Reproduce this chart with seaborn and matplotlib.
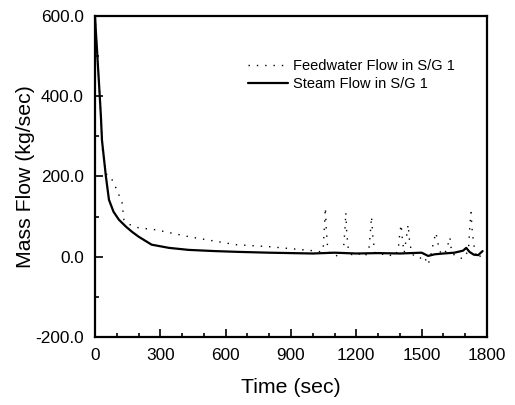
import numpy as np
import pandas as pd
import seaborn as sns
import matplotlib.pyplot as plt
from matplotlib.ticker import MultipleLocator, FormatStrFormatter

# steam flow in S/G 1
steam_t = [0, 4, 9, 14, 18, 27, 32, 50, 64, 85, 110, 142, 170, 200, 260, 340, 430,
           550, 660, 800, 900, 1000, 1100, 1200, 1300, 1400, 1500, 1530, 1560,
           1600, 1650, 1690, 1705, 1720, 1740, 1760, 1780]
steam_v = [600, 560, 517, 470, 435, 350, 290, 200, 142, 112, 92, 75, 62, 50, 30, 22,
           17, 14, 12, 10, 9, 8, 10, 8, 9, 8, 10, 2, 6, 8, 10, 15, 22, 12, 5, 4, 14]

# feedwater flow in S/G 1
feed_t = [0, 4, 9, 18, 27, 35, 55, 78, 100, 124, 133, 160, 200, 280, 430, 646,
          800, 900, 1000, 1040,
          1048, 1055, 1058, 1062, 1068, 1078, 1100, 1120,
          1140, 1148, 1152, 1156, 1164, 1180, 1210, 1240,
          1258, 1266, 1270, 1276, 1285, 1310, 1340, 1370,
          1392, 1400, 1406, 1412, 1420, 1432, 1438, 1446, 1460, 1490, 1510, 1530,
          1545, 1556, 1566, 1574, 1590, 1615, 1625, 1630, 1638, 1660, 1690,
          1715, 1722, 1727, 1733, 1745, 1760, 1780]
feed_v = [600, 560, 517, 435, 350, 260, 200, 192, 167, 135, 92, 80, 72, 67, 50, 30,
          25, 20, 15, 12,
          20, 90, 122, 70, 25, 8, 5, 0,
          10, 70, 110, 60, 15, 5, 8, 0,
          20, 70, 100, 50, 10, 5, 8, 0,
          15, 60, 80, 40, 10, 55, 80, 30, 5, -5, 2, -20,
          10, 40, 60, 35, 5, 15, 40, 48, 10, 0, -5,
          15, 80, 110, 60, 10, -5, 10]

steam = pd.DataFrame({'Time': steam_t, 'Flow': steam_v})
feed = pd.DataFrame({'Time': feed_t, 'Flow': feed_v})

sns.set_style('ticks', {'axes.edgecolor': 'black', 'xtick.color': 'black',
                        'ytick.color': 'black', 'text.color': 'black',
                        'axes.labelcolor': 'black'})
plt.rcParams['font.family'] = ['Liberation Sans', 'DejaVu Sans']

fig = plt.figure(figsize=(5.15, 4.05), dpi=100)
ax = fig.add_axes([0.1845, 0.168, 0.761, 0.7926])

sns.lineplot(data=feed, x='Time', y='Flow', ax=ax, color='black', sort=False,
             linewidth=1.0, linestyle=(0, (1, 5)), label='Feedwater Flow in S/G 1')
sns.lineplot(data=steam, x='Time', y='Flow', ax=ax, color='black', sort=False,
             linewidth=1.6, label='Steam Flow in S/G 1')

ax.set_xlim(0, 1800)
ax.set_ylim(-200, 600)
ax.xaxis.set_major_locator(MultipleLocator(300))
ax.xaxis.set_minor_locator(MultipleLocator(100))
ax.yaxis.set_major_locator(MultipleLocator(200))
ax.yaxis.set_minor_locator(MultipleLocator(100))
ax.yaxis.set_major_formatter(FormatStrFormatter('%.1f'))
ax.tick_params(which='both', direction='in', labelsize=12.4, width=1.2, colors='black')
ax.tick_params(which='major', length=6, pad=8)
ax.tick_params(which='minor', length=3)
for sp in ax.spines.values():
    sp.set_linewidth(1.6)
    sp.set_color('black')

ax.set_xlabel('Time (sec)', fontsize=15.3, labelpad=11)
ax.set_ylabel('Mass Flow (kg/sec)', fontsize=15.3, labelpad=0)

leg = ax.legend(loc='upper left', bbox_to_anchor=(0.39, 0.865), frameon=False,
                borderaxespad=0, borderpad=0, fontsize=10.5, handlelength=2.75,
                handletextpad=0.35, labelspacing=0.25)

fig.savefig('out.png', dpi=100)
